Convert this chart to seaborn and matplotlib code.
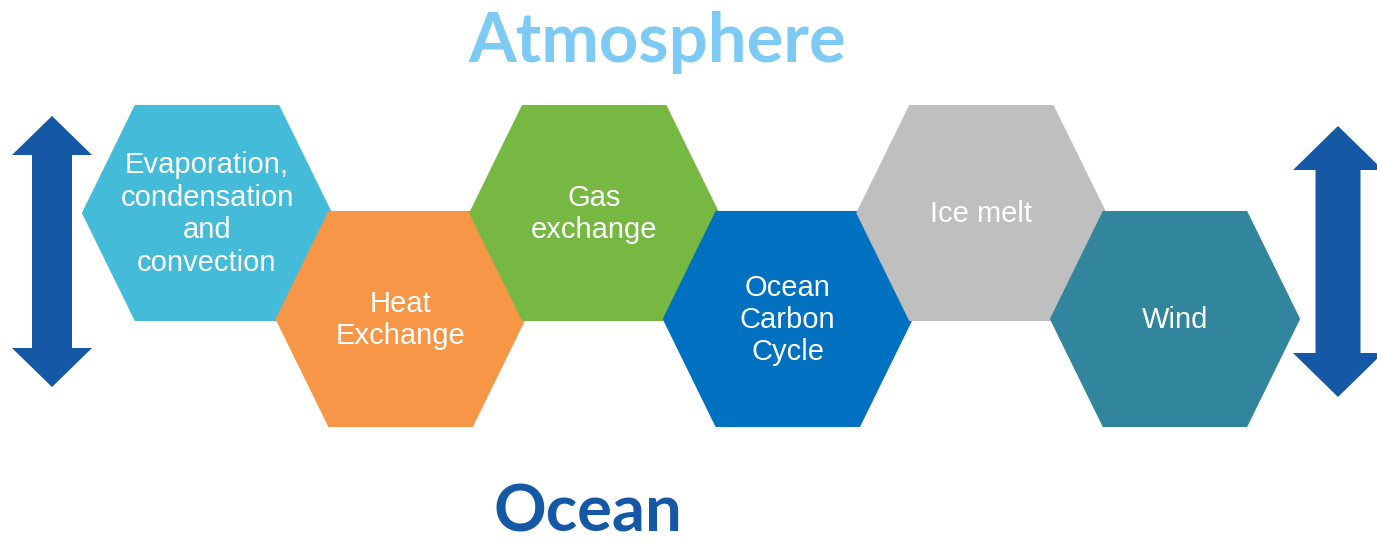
import matplotlib
matplotlib.use("Agg")
import matplotlib.pyplot as plt
from matplotlib.patches import Polygon
import seaborn as sns
import numpy as np

sns.set_theme(style="white")
plt.rcParams['font.family'] = ['Liberation Sans', 'DejaVu Sans']

# ---- data ----
labels = ["Evaporation,\ncondensation\nand\nconvection", "Heat\nExchange", "Gas\nexchange",
          "Ocean\nCarbon\nCycle", "Ice melt", "Wind"]
rows = [0, 1, 0, 1, 0, 1]          # 0 = upper row, 1 = lower row
colors = ["#43BBD9", "#F79646", "#77B843", "#0070C0", "#BFBFBF", "#31859C"]
top_title = "Atmosphere"
bottom_title = "Ocean"

W, H = 1377, 547
fig = plt.figure(figsize=(W / 100, H / 100), dpi=100)
ax = fig.add_axes([0, 0, 1, 1])
ax.set_xlim(0, W)
ax.set_ylim(H, 0)
ax.axis("off")

x0, dx = 207, 193.6
y_rows = [213, 319]
hw, hh, top_hw = 124, 107, 71.5

for i, (lab, r, c) in enumerate(zip(labels, rows, colors)):
    cx = x0 + i * dx
    cy = y_rows[r]
    pts = [(cx - hw, cy), (cx - top_hw, cy - hh), (cx + top_hw, cy - hh),
           (cx + hw, cy), (cx + top_hw, cy + hh), (cx - top_hw, cy + hh)]
    ax.add_patch(Polygon(pts, closed=True, facecolor=c, edgecolor=c, lw=1.5,
                         joinstyle="round", zorder=2 + i))
    ax.text(cx, cy + 1, lab, ha="center", va="center", color="white",
            fontsize=21, linespacing=1.2, zorder=10)


def double_arrow(cx, ytop, ybot, head_w, shaft_w, head_h, color):
    pts = [(cx, ytop), (cx + head_w / 2, ytop + head_h), (cx + shaft_w / 2, ytop + head_h),
           (cx + shaft_w / 2, ybot - head_h), (cx + head_w / 2, ybot - head_h), (cx, ybot),
           (cx - head_w / 2, ybot - head_h), (cx - shaft_w / 2, ybot - head_h),
           (cx - shaft_w / 2, ytop + head_h), (cx - head_w / 2, ytop + head_h)]
    ax.add_patch(Polygon(pts, closed=True, facecolor=color, edgecolor="none", zorder=1))


arrow_color = "#1558A6"
double_arrow(52, 116, 387, 80, 40, 39, arrow_color)
double_arrow(1338, 126, 397, 90, 45, 44, arrow_color)

ax.text(657, 62, top_title, ha="center", va="baseline", color="#7DCBF4",
        fontsize=49.5, fontweight="bold", family=["Lato", "DejaVu Sans"])
ax.text(588, 532, bottom_title, ha="center", va="baseline", color="#1558A6",
        fontsize=47, fontweight="bold", family=["Lato", "DejaVu Sans"])

fig.savefig("out.png", dpi=100)
